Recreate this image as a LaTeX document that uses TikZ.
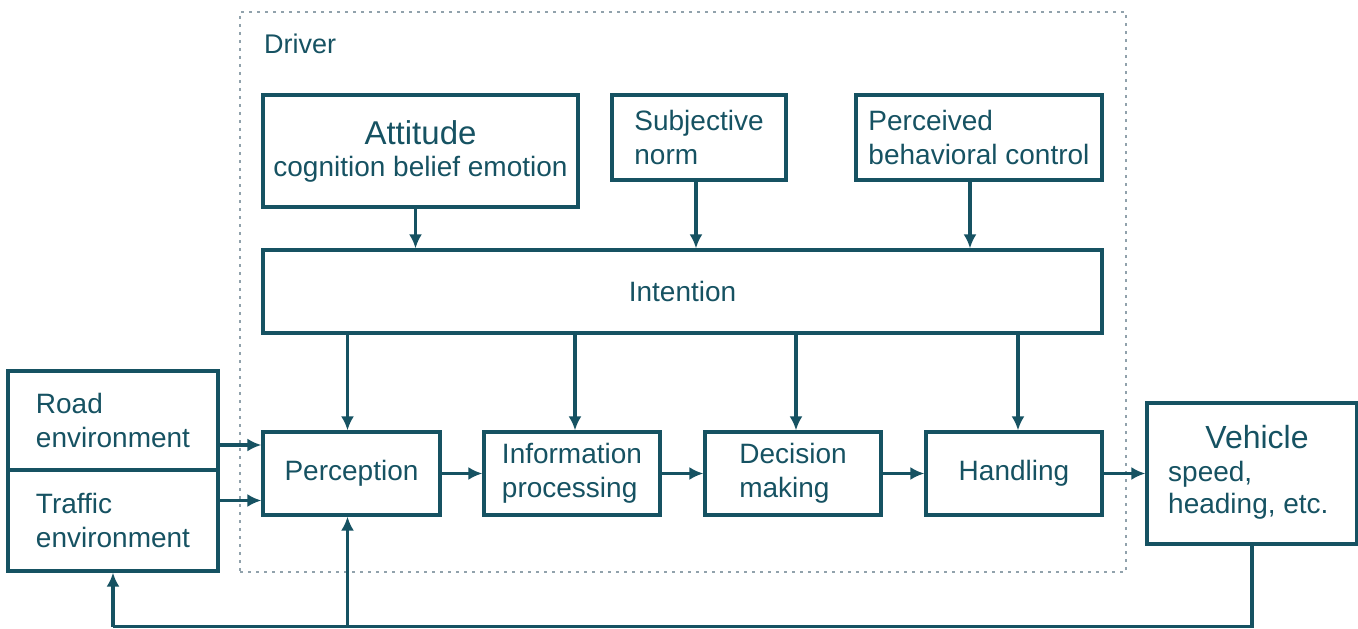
\documentclass[tikz,border=0pt]{standalone}
\usepackage{fontspec}
\setmainfont{Liberation Sans}
\usetikzlibrary{arrows.meta,calc}
\definecolor{teal1}{RGB}{22,82,98}
\definecolor{dotgray}{RGB}{145,162,172}
\begin{document}
\begin{tikzpicture}[x=1pt,y=-1pt,
  box/.style={draw=teal1,line width=3.2pt,text=teal1,inner sep=0pt,
     font=\fontsize{28}{34}\selectfont},
  arr/.style={draw=teal1,line width=3.2pt,-{Latex[length=14pt,width=13pt]}},
  ln/.style={draw=teal1,line width=3.2pt},
  big/.style={font=\fontsize{32}{36}\selectfont}]
\useasboundingbox (0,0) rectangle (1358,629);
% driver frame
\node (drv) [draw=dotgray,line width=2.5pt,dash pattern=on 3pt off 5pt,
  minimum width=886pt,minimum height=560pt,inner sep=0pt] at (683,292) {};
\node (drvlab) [anchor=west,text=teal1,font=\fontsize{27}{30}\selectfont,inner sep=0pt] at (264,44) {Driver};
% top row
\node (att) [box,minimum width=315pt,minimum height=112pt,align=center] at (420.5,151)
  {{\fontsize{33}{38}\selectfont Attitude}\\[-2pt]cognition belief emotion};
\node (sub) [box,minimum width=174pt,minimum height=85pt,align=left] at (699,137.5)
  {Subjective\\norm};
\node (pbc) [box,minimum width=246pt,minimum height=85pt,align=left] at (979,137.5)
  {Perceived\\behavioral control};
% intention
\node (int) [box,minimum width=839pt,minimum height=83pt] at (682.5,291.5) {Intention};
% bottom row
\node (perc) [box,minimum width=177pt,minimum height=83pt] at (351.5,473.5) {Perception};
\node (info) [box,minimum width=176pt,minimum height=83pt,align=left] at (572,473.5)
  {Information\\processing};
\node (dec) [box,minimum width=176pt,minimum height=83pt,align=left] at (793,473.5)
  {Decision\\making};
\node (hand) [box,minimum width=176pt,minimum height=83pt] at (1014,473.5) {Handling};
% environment
\node (road) [box,minimum width=210pt,minimum height=99pt,align=left] at (113,420.5)
  {Road\\environment};
\node (traf) [box,minimum width=210pt,minimum height=101pt,align=left] at (113,520.5)
  {Traffic\\environment};
% vehicle
\node (veh) [box,minimum width=210pt,minimum height=141pt] at (1252,473.5) {};
\node (vehT) [text=teal1,big,inner sep=0pt] at (1257,437) {Vehicle};
\node (vehS) [text=teal1,anchor=north west,align=left,inner sep=0pt,
  font=\fontsize{28}{32}\selectfont] at (1168,461) {speed,\\heading, etc.};
% arrows top -> intention
\draw[arr] ([xshift=-5pt]att.south) -- ([xshift=-5pt]att.south |- int.north);
\draw[arr] ([xshift=-3pt]sub.south) -- ([xshift=-3pt]sub.south |- int.north);
\draw[arr] ([xshift=-9pt]pbc.south) -- ([xshift=-9pt]pbc.south |- int.north);
% intention -> bottom row
\draw[arr] ([xshift=-4pt]int.south -| perc.north) -- ([xshift=-4pt]perc.north);
\draw[arr] ([xshift=3pt]int.south -| info.north) -- ([xshift=3pt]info.north);
\draw[arr] ([xshift=3pt]int.south -| dec.north) -- ([xshift=3pt]dec.north);
\draw[arr] ([xshift=4pt]int.south -| hand.north) -- ([xshift=4pt]hand.north);
% chain
\draw[arr] (perc.east) -- (info.west);
\draw[arr] (info.east) -- (dec.west);
\draw[arr] (dec.east) -- (hand.west);
\draw[arr] (hand.east) -- (veh.west);
% environment -> perception
\draw[arr] ([yshift=-24.5pt]road.east) -- ([yshift=-24.5pt]road.east -| perc.west);
\draw[arr] ([yshift=20pt]traf.east) -- ([yshift=20pt]traf.east -| perc.west);
% feedback
\coordinate (fbR) at (veh.south |- 0,626.5);
\coordinate (fbL) at (traf.south |- 0,626.5);
\coordinate (fbM) at ([xshift=-4pt]perc.south |- 0,626.5);
\draw[ln] (veh.south) -- (fbR) -- (fbL);
\draw[arr] (fbL) -- (traf.south);
\draw[arr] (fbM) -- ([xshift=-4pt]perc.south);
\end{tikzpicture}
\end{document}
